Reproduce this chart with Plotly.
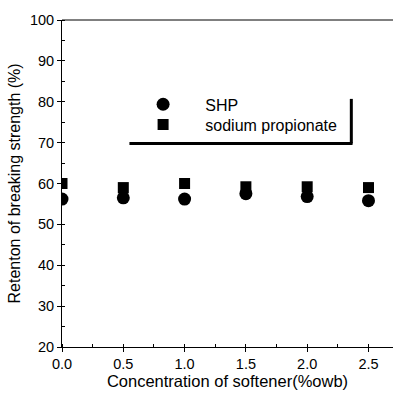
import plotly.graph_objects as go

concentration = [0.0, 0.5, 1.0, 1.5, 2.0, 2.5]
shp = [56.2, 56.5, 56.2, 57.5, 56.8, 55.8]
sodium_propionate = [60.0, 59.0, 60.0, 59.2, 59.2, 59.0]

x_ticks = [0.0, 0.5, 1.0, 1.5, 2.0, 2.5]
x_tick_labels = ["0.0", "0.5", "1.0", "1.5", "2.0", "2.5"]
y_ticks = [20, 30, 40, 50, 60, 70, 80, 90, 100]

font_family = "Liberation Sans, Arial, sans-serif"
NB = "\u00a0"

fig = go.Figure()
fig.add_trace(go.Scatter(
    x=concentration, y=shp, mode="markers", name=NB * 5 + "SHP",
    marker=dict(symbol="circle", size=13, color="black"), legend="legend",
))
fig.add_trace(go.Scatter(
    x=concentration, y=sodium_propionate, mode="markers", name=NB * 5 + "sodium propionate",
    marker=dict(symbol="square", size=11, color="black"), legend="legend2",
))

# legend frame (bottom + right heavy lines)
fig.add_shape(type="line", xref="x", yref="y", x0=0.55, x1=2.37, y0=69.8, y1=69.8,
              line=dict(color="black", width=3))
fig.add_shape(type="line", xref="x", yref="y", x0=2.36, x1=2.36, y0=69.8, y1=80.7,
              line=dict(color="black", width=3))

legend_common = dict(xanchor="left", yanchor="middle", bgcolor="rgba(0,0,0,0)",
                     font=dict(size=16, family=font_family), itemwidth=30)

fig.update_layout(
    width=411, height=400,
    margin=dict(l=62, r=18, t=12, b=52),
    paper_bgcolor="white", plot_bgcolor="white",
    font=dict(family=font_family, color="black", size=14),
    showlegend=True,
    legend=dict(x=0.245, y=0.742, **legend_common),
    legend2=dict(x=0.245, y=0.680, **legend_common),
    xaxis=dict(
        range=[0, 2.7], tickvals=x_ticks, ticktext=x_tick_labels,
        showgrid=False, zeroline=False, showline=True, linecolor="black", linewidth=1,
        mirror=False, ticks="outside", ticklen=4, tickcolor="black",
        minor=dict(ticks="inside", ticklen=3, dtick=0.25, tickcolor="black"),
        title=dict(text="Concentration of softener(%owb)", font=dict(size=16.5), standoff=4),
        tickfont=dict(size=14.5),
    ),
    yaxis=dict(
        range=[20, 100], tickvals=y_ticks,
        showgrid=False, zeroline=False, showline=True, linecolor="black", linewidth=1,
        ticks="outside", ticklen=4, tickcolor="black",
        minor=dict(ticks="inside", ticklen=3, dtick=5, tickcolor="black"),
        tickfont=dict(size=14.5),
    ),
)
fig.add_annotation(text="Retenton of breaking strength (%)",
                   xref="paper", yref="paper",
                   x=-0.142, y=0.5, xanchor="center", yanchor="middle", textangle=-90,
                   showarrow=False, font=dict(size=16))
# top border
fig.add_shape(type="line", xref="paper", yref="paper", x0=0, x1=1, y0=1, y1=1,
              line=dict(color="black", width=1))

fig.write_html("out.html")
